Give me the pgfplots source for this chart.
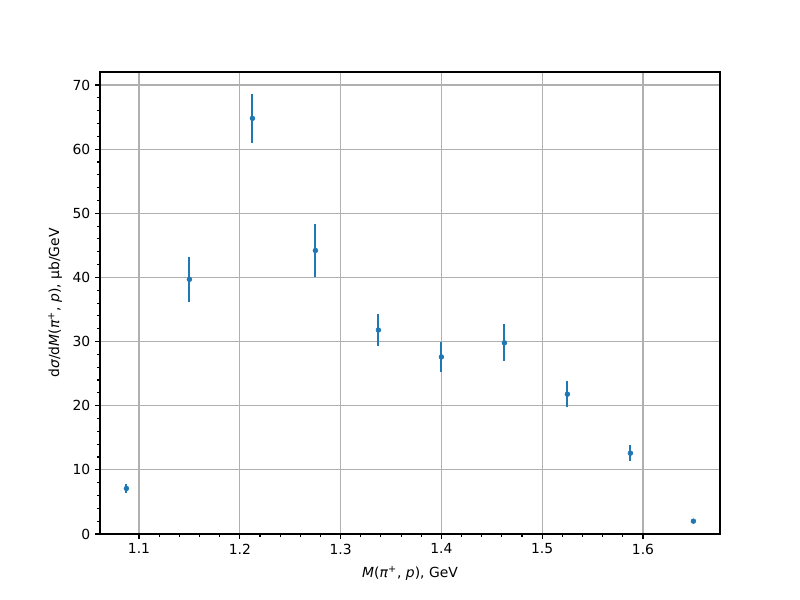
\documentclass[border=0pt]{standalone}
\usepackage{pgfplots}
\pgfplotsset{compat=1.18}
\usepackage{fontspec}
\setmainfont{DejaVu Sans}
\definecolor{c0}{HTML}{1F77B4}
\definecolor{gridc}{HTML}{B0B0B0}
\begin{document}
\fontsize{8.03pt}{9.6pt}\selectfont
\begin{tikzpicture}[x=1pt,y=1pt]
\begin{axis}[
  at={(0,0)}, anchor=south west,
  scale only axis,
  width=358.46pt, height=267.1pt,
  xmin=1.0613, xmax=1.6764,
  ymin=0, ymax=72.03,
  xtick={1.1,1.2,1.3,1.4,1.5,1.6},
  ytick={0,10,20,30,40,50,60,70},
  minor x tick num=4,
  minor y tick num=4,
  xticklabel style={/pgf/number format/fixed,/pgf/number format/precision=1},
  /pgf/number format/assume math mode=true,
  tick align=outside,
  tick pos=left,
  major tick length=2.8pt,
  minor tick length=1.6pt,
  every tick/.style={black, line width=0.64pt},
  axis line style={line width=0.64pt},
  grid=major,
  major grid style={gridc, line width=0.64pt},
  tick label style={font=\fontsize{8.03pt}{9.6pt}\selectfont},
  label style={font=\fontsize{8.03pt}{9.6pt}\selectfont},
  xlabel={\textit{M}(\textit{π}\textsuperscript{+}, \textit{p}), GeV},
  ylabel={d\textit{σ}/d\textit{M}(\textit{π}\textsuperscript{+}, \textit{p}), μb/GeV},
  xlabel style={yshift=-1.5pt},
  ylabel style={yshift=0.5pt},
]
\addplot[c0, only marks, mark=*, mark size=1.35pt, mark options={c0},
  error bars/.cd, y dir=both, y explicit, error mark=none,
  error bar style={c0, line width=1.2pt}]
  table[x=x, y=y, y error=e] {
x y e
1.0875 7.1 0.75
1.1500 39.7 3.55
1.2125 64.8 3.8
1.2750 44.2 4.2
1.3375 31.8 2.55
1.4000 27.6 2.3
1.4625 29.8 2.9
1.5250 21.8 2.0
1.5875 12.6 1.25
1.6500 2.0 0.2
};
\end{axis}
\useasboundingbox (-57.82pt,-38.16pt) rectangle (404.71pt,308.73pt);
\end{tikzpicture}
\end{document}
